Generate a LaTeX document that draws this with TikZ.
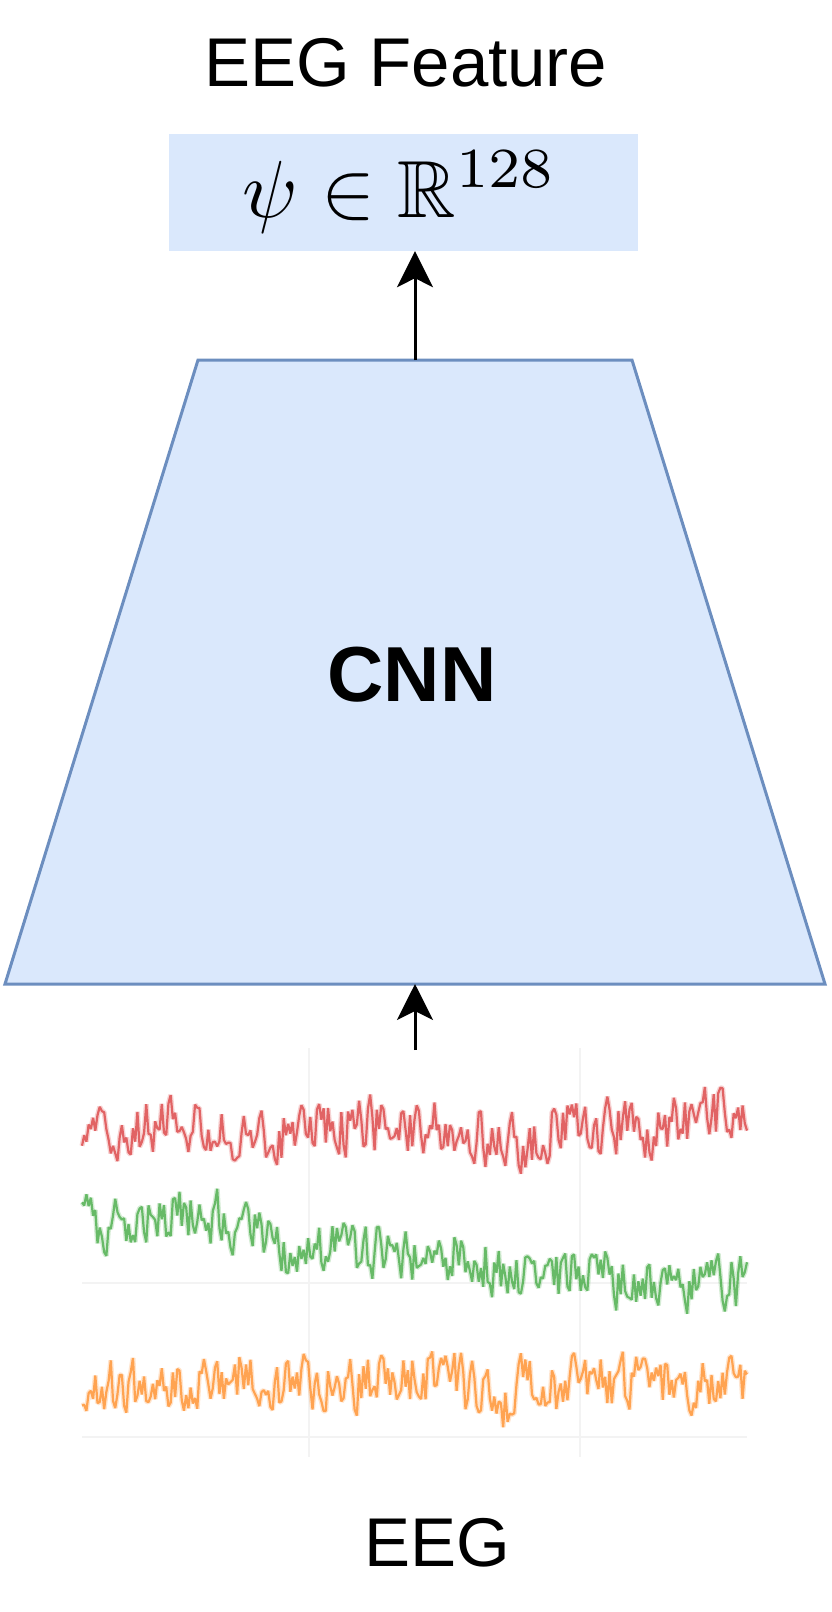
\documentclass[tikz,border=0pt]{standalone}
\usepackage{amssymb}
\usepackage[no-math]{fontspec}
\newfontfamily\arialfont{Liberation Sans}
\usetikzlibrary{arrows.meta}
\definecolor{boxfill}{HTML}{DAE8FC}
\definecolor{boxline}{HTML}{6C8EBF}
\definecolor{eegred}{HTML}{D62728}
\definecolor{eeggreen}{HTML}{2CA02C}
\definecolor{eegorange}{HTML}{FF7F0E}
\definecolor{gridgray}{HTML}{F3F3F3}
\newcommand\buildwave[5]{%
  \pgfmathsetseed{#4}%
  \gdef\wavetmp{}%
  \gdef\wavev{0}%
  \foreach \i in {0,...,300}{%
    \pgfmathsetmacro\wt{\i/300}%
    \pgfmathsetmacro\nv{#5*(\wavev)+rand}%
    \xdef\wavev{\nv}%
    \pgfmathsetmacro\xx{82+665*\wt}%
    \pgfmathsetmacro\yy{#2+#3*(\nv)}%
    \ifnum\i=0 \xdef\wavetmp{(\xx,\yy)}\else\xdef\wavetmp{\wavetmp -- (\xx,\yy)}\fi
  }%
  \global\let#1\wavetmp
}
\def\drawwave#1#2{\draw[wavehalo,#2] #1;\draw[wave,#2] #1;}
\tikzset{
  lbl/.style={font=\arialfont\fontsize{69}{80}\selectfont, inner sep=0pt},
  cnnlbl/.style={font=\arialfont\bfseries\fontsize{78}{90}\selectfont, inner sep=0pt},
  featbox/.style={rectangle, fill=boxfill, draw=none, minimum width=469pt, minimum height=117pt, inner sep=0pt},
  cnnshape/.style={fill=boxfill, draw=boxline, line width=3pt, line join=miter},
  arr/.style={line width=3pt, -{Stealth[length=36pt,width=36pt,inset=9pt]}},
  wavehalo/.style={line width=5pt, line join=bevel, opacity=0.2},
  wave/.style={line width=2.2pt, line join=bevel, opacity=0.65},
  gridline/.style={draw=gridgray, line width=2pt}
}
\begin{document}
\begin{tikzpicture}[x=1pt,y=-1pt]
\useasboundingbox (0,0) rectangle (831,1612);
% title and feature box
\node[lbl, anchor=base] (title) at (406,86) {EEG Feature};
\node[featbox] (feat) at (403.5,192.5) {};
\node[anchor=base, inner sep=0pt, font=\fontsize{10}{12}\selectfont, scale=8.1] (psi) at (400,217) {$\psi\in\mathbb{R}^{128}$};
% CNN trapezoid
\coordinate (tl) at (198,360);
\coordinate (tr) at (632,360);
\coordinate (br) at (825,984);
\coordinate (bl) at (5,984);
\draw[cnnshape] (tl) -- (tr) -- (br) -- (bl) -- cycle;
\node[cnnlbl, anchor=base] (cnn) at (412,701) {CNN};
% connectors
\coordinate (cnntop) at (415,360);
\coordinate (cnnbot) at (415,984);
\coordinate (eegtop) at (415,1050);
\draw[arr] (cnntop) -- (cnntop |- feat.south);
\draw[arr] (eegtop) -- (cnnbot);
% EEG plot grid
\draw[gridline] (309,1048) -- (309,1457);
\draw[gridline] (580,1048) -- (580,1457);
\draw[gridline] (82,1283) -- (747,1283);
\draw[gridline] (82,1437) -- (747,1437);
% EEG traces
\buildwave{\wavered}{1128 + 22*max(0,1-abs(\wt-0.64)/0.07) + 10*max(0,1-abs(\wt-0.27)/0.1) - 18*min(1,max(0,(\wt-0.85)/0.12)) - 8*max(0,1-abs(\wt-0.15)/0.1)}{27}{11}{0.35}
\buildwave{\wavegreen}{1228 - 14*max(0,1-abs(\wt-0.17)/0.09) + 24*min(1,max(0,(\wt-0.24)/0.06)) + 30*min(1,max(0,(\wt-0.59)/0.06)) - 8*max(0,1-abs(\wt-0.76)/0.08)}{26}{23}{0.35}
\buildwave{\waveorange}{1385 - 12*max(0,1-abs(\wt-0.2)/0.1) + 20*max(0,1-abs(\wt-0.62)/0.05) - 10*max(0,1-abs(\wt-0.53)/0.05)}{27}{37}{0.35}
\expandafter\drawwave\expandafter{\wavered}{eegred}
\expandafter\drawwave\expandafter{\wavegreen}{eeggreen}
\expandafter\drawwave\expandafter{\waveorange}{eegorange}
% bottom label
\node[lbl, anchor=base] (eeglbl) at (437,1566) {EEG};
\end{tikzpicture}
\end{document}
